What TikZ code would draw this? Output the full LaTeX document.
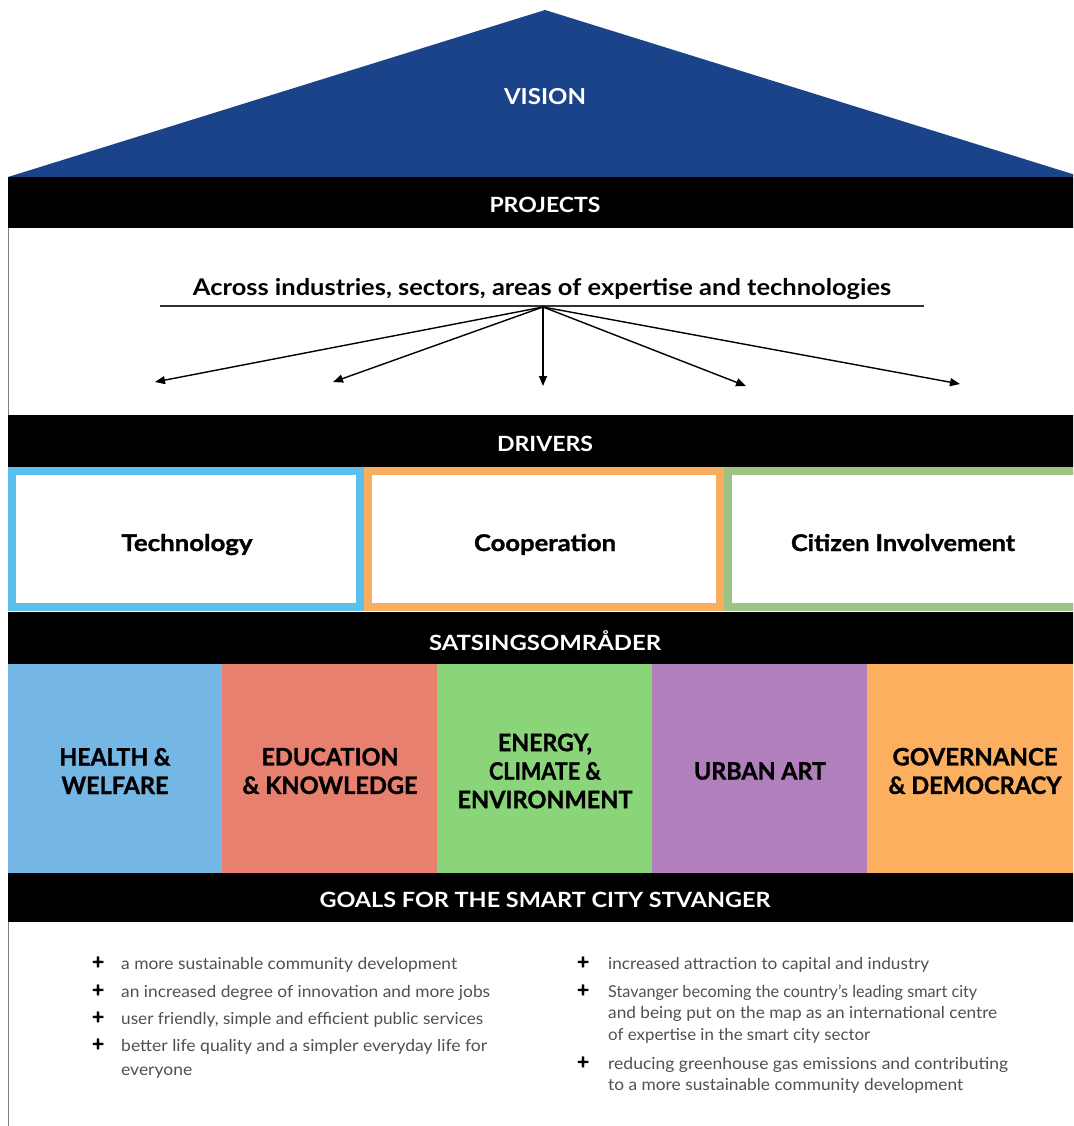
\documentclass[tikz,border=0pt]{standalone}
\usepackage{fontspec}
\setmainfont{Lato}
\newfontfamily\heavy{Lato}[BoldFeatures={FakeBold=1.2}]
\usetikzlibrary{arrows.meta}
\definecolor{roofblue}{HTML}{1B4389}
\definecolor{techc}{HTML}{5BC0EB}
\definecolor{coopc}{HTML}{F9AE5F}
\definecolor{citc}{HTML}{9DC384}
\definecolor{colA}{HTML}{74B6E4}
\definecolor{colB}{HTML}{E8806F}
\definecolor{colC}{HTML}{8AD57A}
\definecolor{colD}{HTML}{B07FBC}
\definecolor{colE}{HTML}{FCAF5F}
\definecolor{bodygray}{HTML}{505050}
\newcommand\fitto[2]{\resizebox{#1pt}{\height}{#2}}
\tikzset{
  bar/.style={fill=black, minimum width=1074pt, inner sep=0pt, outer sep=0pt},
  bartext/.style={text=white, inner sep=0pt, font=\bfseries\fontsize{21}{24}\selectfont},
  drvbox/.style={draw=#1, fill=white, line width=8pt, minimum height=136pt, inner sep=0pt, outer sep=0pt},
  drvtext/.style={anchor=base, inner sep=0pt, font=\heavy\bfseries\fontsize{23}{26}\selectfont},
  colbox/.style={fill=#1, minimum width=215pt, minimum height=209pt, inner sep=0pt, outer sep=0pt},
  coltext/.style={inner sep=0pt, align=center, font=\heavy\bfseries\fontsize{24}{28.5}\selectfont},
  plus/.style={anchor=base, inner sep=0pt, font=\heavy\bfseries\fontsize{21}{24}\selectfont},
  goal/.style={anchor=base west, inner sep=0pt, text=bodygray, font=\fontsize{16.5}{20}\selectfont},
  fan/.style={line width=1.4pt, -{Triangle[length=10pt,width=8pt]}},
}
\begin{document}
\begin{tikzpicture}[x=1pt,y=-1pt]
\useasboundingbox (0,0) rectangle (1073,1126);
\clip (0,0) rectangle (1073,1126);
\fill[white] (0,0) rectangle (1073,1126);

% roof
\fill[roofblue] (545,10) -- (8,177) -- (1082,177) -- cycle;
\node[bartext, font=\bfseries\fontsize{22}{24}\selectfont] (vision) at (545,97) {\fitto{82}{VISION}};

% projects
\node[bar, minimum height=51pt] (projbar) at (545,202.5) {};
\node[bartext] (projtxt) at (545,205) {\fitto{111}{PROJECTS}};
\draw[gray, line width=1.5pt] (8.5,228) -- (8.5,415);
\node[inner sep=0pt, font=\bfseries\fontsize{23}{26}\selectfont] (across) at (542,289) {\fitto{698}{Across industries, sectors, areas of expertise and technologies}};
\draw[black!80, line width=1.2pt] (160,306) -- (924,306);
\coordinate (hub) at (543,307);
\coordinate (t1) at (155,382);
\coordinate (t2) at (333,382);
\coordinate (t3) at (543,386);
\coordinate (t4) at (746,386);
\coordinate (t5) at (960,384);
\foreach \t in {t1,t2,t3,t4,t5} \draw[fan] (hub) -- (\t);

% drivers
\node[bar, minimum height=52pt] (drvbar) at (545,441) {};
\node[bartext] (drvtxt) at (545,444) {\fitto{96}{DRIVERS}};
\node[drvbox=techc, minimum width=348pt] (tech) at (186,539) {};
\node[drvbox=coopc, minimum width=352pt] (coop) at (544,539) {};
\node[drvbox=citc, minimum width=356pt] (cit) at (906,539) {};
\node[drvtext] (techtxt) at (187,551) {\fitto{131}{Technology}};
\node[drvtext] (cooptxt) at (545,551) {\fitto{142}{Cooperation}};
\node[drvtext] (cittxt) at (903,551) {\fitto{224}{Citizen Involvement}};

% satsingsomrader
\node[bar, minimum height=52pt] (satbar) at (545,638) {};
\node[bartext] (sattxt) at (545,641) {\fitto{232}{SATSINGSOMRÅDER}};
\node[colbox=colA] (health) at (115,768.5) {};
\node[colbox=colB] (edu) at (329.5,768.5) {};
\node[colbox=colC] (energy) at (544.5,768.5) {};
\node[colbox=colD] (urban) at (759.5,768.5) {};
\node[colbox=colE] (gov) at (974.5,768.5) {};
\node[coltext] (healthtxt) at (115,771) {\fitto{111}{HEALTH \&}\\\fitto{107}{WELFARE}};
\node[coltext] (edutxt) at (330,771) {\fitto{137}{EDUCATION}\\\fitto{175}{\& KNOWLEDGE}};
\node[coltext] (energytxt) at (545,771) {\fitto{94}{ENERGY,}\\\fitto{112}{CLIMATE \&}\\\fitto{175}{ENVIRONMENT}};
\node[coltext] (urbantxt) at (760,771) {\fitto{132}{URBAN ART}};
\node[coltext] (govtxt) at (975,771) {\fitto{165}{GOVERNANCE}\\\fitto{173}{\& DEMOCRACY}};

% goals
\node[bar, minimum height=49pt] (goalbar) at (545,897.5) {};
\node[bartext] (goaltxt) at (545,900) {\fitto{451}{GOALS FOR THE SMART CITY STVANGER}};
\draw[gray, line width=1.5pt] (8.5,922) -- (8.5,1126);

\node[plus] (p1) at (98,969) {+};
\node[plus] (p2) at (98,997) {+};
\node[plus] (p3) at (98,1024) {+};
\node[plus] (p4) at (98,1051) {+};
\node[goal] (g1) at (121,969) {\fitto{336}{a more sustainable community development}};
\node[goal] (g2) at (121,997) {\fitto{369}{an increased degree of innovation and more jobs}};
\node[goal] (g3) at (121,1024) {\fitto{362}{user friendly, simple and efficient public services}};
\node[goal] (g4a) at (121,1051) {\fitto{366}{better life quality and a simpler everyday life for}};
\node[goal] (g4b) at (121,1075) {\fitto{71}{everyone}};

\node[plus] (p5) at (583,969) {+};
\node[plus] (p6) at (583,997) {+};
\node[plus] (p7) at (583,1069) {+};
\node[goal] (g5) at (608,969) {\fitto{321}{increased attraction to capital and industry}};
\node[goal] (g6a) at (608,997) {\fitto{369}{Stavanger becoming the country’s leading smart city}};
\node[goal] (g6b) at (608,1018) {\fitto{389}{and being put on the map as an international centre}};
\node[goal] (g6c) at (608,1040) {\fitto{262}{of expertise in the smart city sector}};
\node[goal] (g7a) at (608,1069) {\fitto{400}{reducing greenhouse gas emissions and contributing}};
\node[goal] (g7b) at (608,1090) {\fitto{355}{to a more sustainable community development}};
\end{tikzpicture}
\end{document}
